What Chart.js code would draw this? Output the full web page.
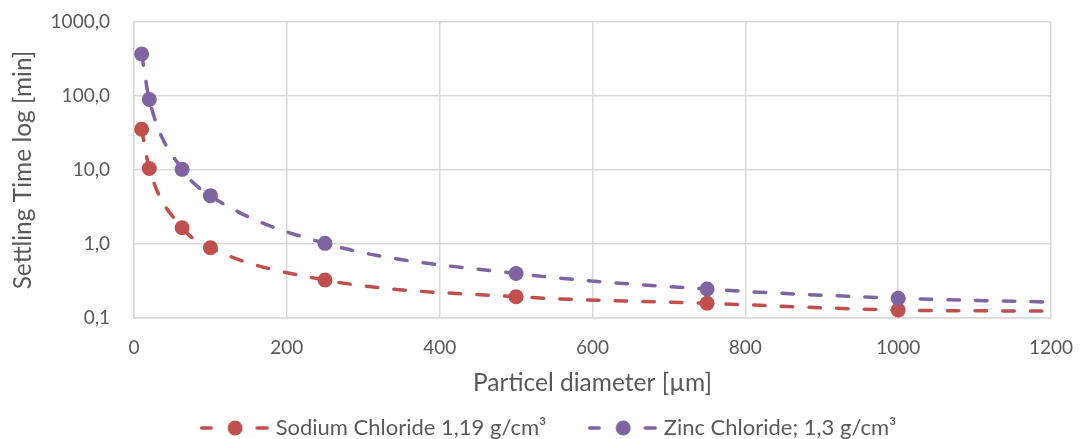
<!DOCTYPE html>
<html>
<head>
<meta charset="utf-8">
<script src="https://cdn.jsdelivr.net/npm/chart.js@4.4.0/dist/chart.umd.min.js"></script>
<style>
html,body{margin:0;padding:0;background:#ffffff;}
#wrap{width:1083px;height:439px;}
</style>
</head>
<body>
<div id="wrap"><canvas id="c" width="1083" height="439"></canvas></div>
<script>
// ---- data ----
const diameters = [10, 20, 63, 100, 250, 500, 750, 1000, 1200];
const sodiumChloride = [35.5, 10.5, 1.66, 0.89, 0.326, 0.194, 0.158, 0.128, 0.124];
const zincChloride = [370, 90, 10.2, 4.5, 1.02, 0.40, 0.246, 0.185, 0.164];
const markerShown = [true, true, true, true, true, true, true, true, false];
const seriesNames = ['Sodium Chloride 1,19 g/cm³', 'Zinc Chloride; 1,3 g/cm³'];
const xTicks = [0, 200, 400, 600, 800, 1000, 1200];
const yTicks = [0.1, 1, 10, 100, 1000];
const xTitle = 'Particel diameter [µm]';
const yTitle = 'Settling Time log [min]';

const RED = '#C0504D';
const PURPLE = '#8064A2';
const TEXT = '#595959';
const GRID = '#D9D9D9';
const FONT = 'Lato, "Open Sans", sans-serif';

const LEG_F = 22, LEG_B = 100, LEG_P = 6.4, LEG_D = 20.5;
const PAD_BOTTOM = -10;
const PLOT_BOTTOM = 318;
const PLOT_RIGHT_GAP = 32;

function legendImage(color) {
  const w = 2 * (LEG_D + 37), h = 20;
  const c = document.createElement('canvas');
  c.width = w; c.height = h;
  const g = c.getContext('2d');
  const cx = w / 2 + LEG_D, cy = h / 2;
  g.strokeStyle = color; g.fillStyle = color;
  g.lineWidth = 3.5; g.lineCap = 'round';
  g.beginPath(); g.moveTo(cx - 33.5, cy); g.lineTo(cx - 24, cy); g.stroke();
  g.beginPath(); g.moveTo(cx + 22, cy); g.lineTo(cx + 32, cy); g.stroke();
  g.beginPath(); g.arc(cx, cy, 7.5, 0, Math.PI * 2); g.fill();
  return c;
}

function pts(values) {
  return diameters.map((d, i) => ({ x: d, y: values[i] }));
}

function seriesStyle(color) {
  return {
    showLine: true,
    borderColor: color,
    backgroundColor: color,
    borderWidth: 3.5,
    borderDash: [11.5, 16.2],
    borderCapStyle: 'round',
    cubicInterpolationMode: 'monotone',
    pointRadius: markerShown.map(m => (m ? 7.5 : 0)),
    pointHoverRadius: markerShown.map(m => (m ? 7.5 : 0)),
    pointBorderWidth: 0,
    pointBackgroundColor: color
  };
}

const legendImgs = [legendImage(RED), legendImage(PURPLE)];

new Chart(document.getElementById('c'), {
  type: 'scatter',
  data: {
    datasets: [
      Object.assign({ label: seriesNames[0], data: pts(sodiumChloride), order: 1 }, seriesStyle(RED)),
      Object.assign({ label: seriesNames[1], data: pts(zincChloride), order: 0 }, seriesStyle(PURPLE))
    ]
  },
  options: {
    responsive: false,
    animation: false,
    devicePixelRatio: 1,
    layout: { padding: { left: 0, right: 22, top: 22, bottom: PAD_BOTTOM } },
    font: { family: FONT },
    plugins: {
      tooltip: { enabled: false },
      legend: {
        position: 'bottom',
        labels: {
          usePointStyle: true,
          pointStyleWidth: LEG_B,
          padding: LEG_P,
          color: TEXT,
          font: { family: FONT, size: LEG_F },
          generateLabels(chart) {
            return chart.data.datasets.map((ds, i) => ({
              text: ds.label,
              fillStyle: ds.borderColor,
              strokeStyle: ds.borderColor,
              fontColor: TEXT,
              lineWidth: 0,
              pointStyle: legendImgs[i],
              hidden: false,
              datasetIndex: i
            }));
          }
        }
      }
    },
    scales: {
      x: {
        type: 'linear',
        min: 0, max: 1200,
        afterBuildTicks: s => { s.ticks = xTicks.map(v => ({ value: v })); },
        afterFit: s => {
          s.height = 439 - PAD_BOTTOM - PLOT_BOTTOM - s.chart.legend.height;
          s.paddingLeft = 0;
          s.paddingRight = PLOT_RIGHT_GAP;
        },
        ticks: { color: TEXT, font: { family: FONT, size: 19 }, padding: 18, maxRotation: 0, callback: v => String(v) },
        grid: { color: GRID, lineWidth: 1.5, drawTicks: false },
        border: { color: GRID, width: 1.5 },
        title: { display: true, text: xTitle, color: TEXT, font: { family: FONT, size: 24.5 }, padding: { top: 0, bottom: 13 } }
      },
      y: {
        type: 'logarithmic',
        min: 0.1, max: 1000,
        afterBuildTicks: s => { s.ticks = yTicks.map(v => ({ value: v })); },
        afterFit: s => {
          s.width = 134;
          s.paddingTop = 12;
          s.paddingBottom = 12;
        },
        ticks: {
          color: TEXT, font: { family: FONT, size: 19 }, padding: 24,
          callback: v => Number(v).toFixed(1).replace('.', ',')
        },
        grid: { color: GRID, lineWidth: 1.5, drawTicks: false },
        border: { color: GRID, width: 1.5 },
        title: { display: true, text: yTitle, color: TEXT, font: { family: FONT, size: 24.5 }, padding: { top: 8, bottom: 0 } }
      }
    }
  }
});
</script>
</body>
</html>
